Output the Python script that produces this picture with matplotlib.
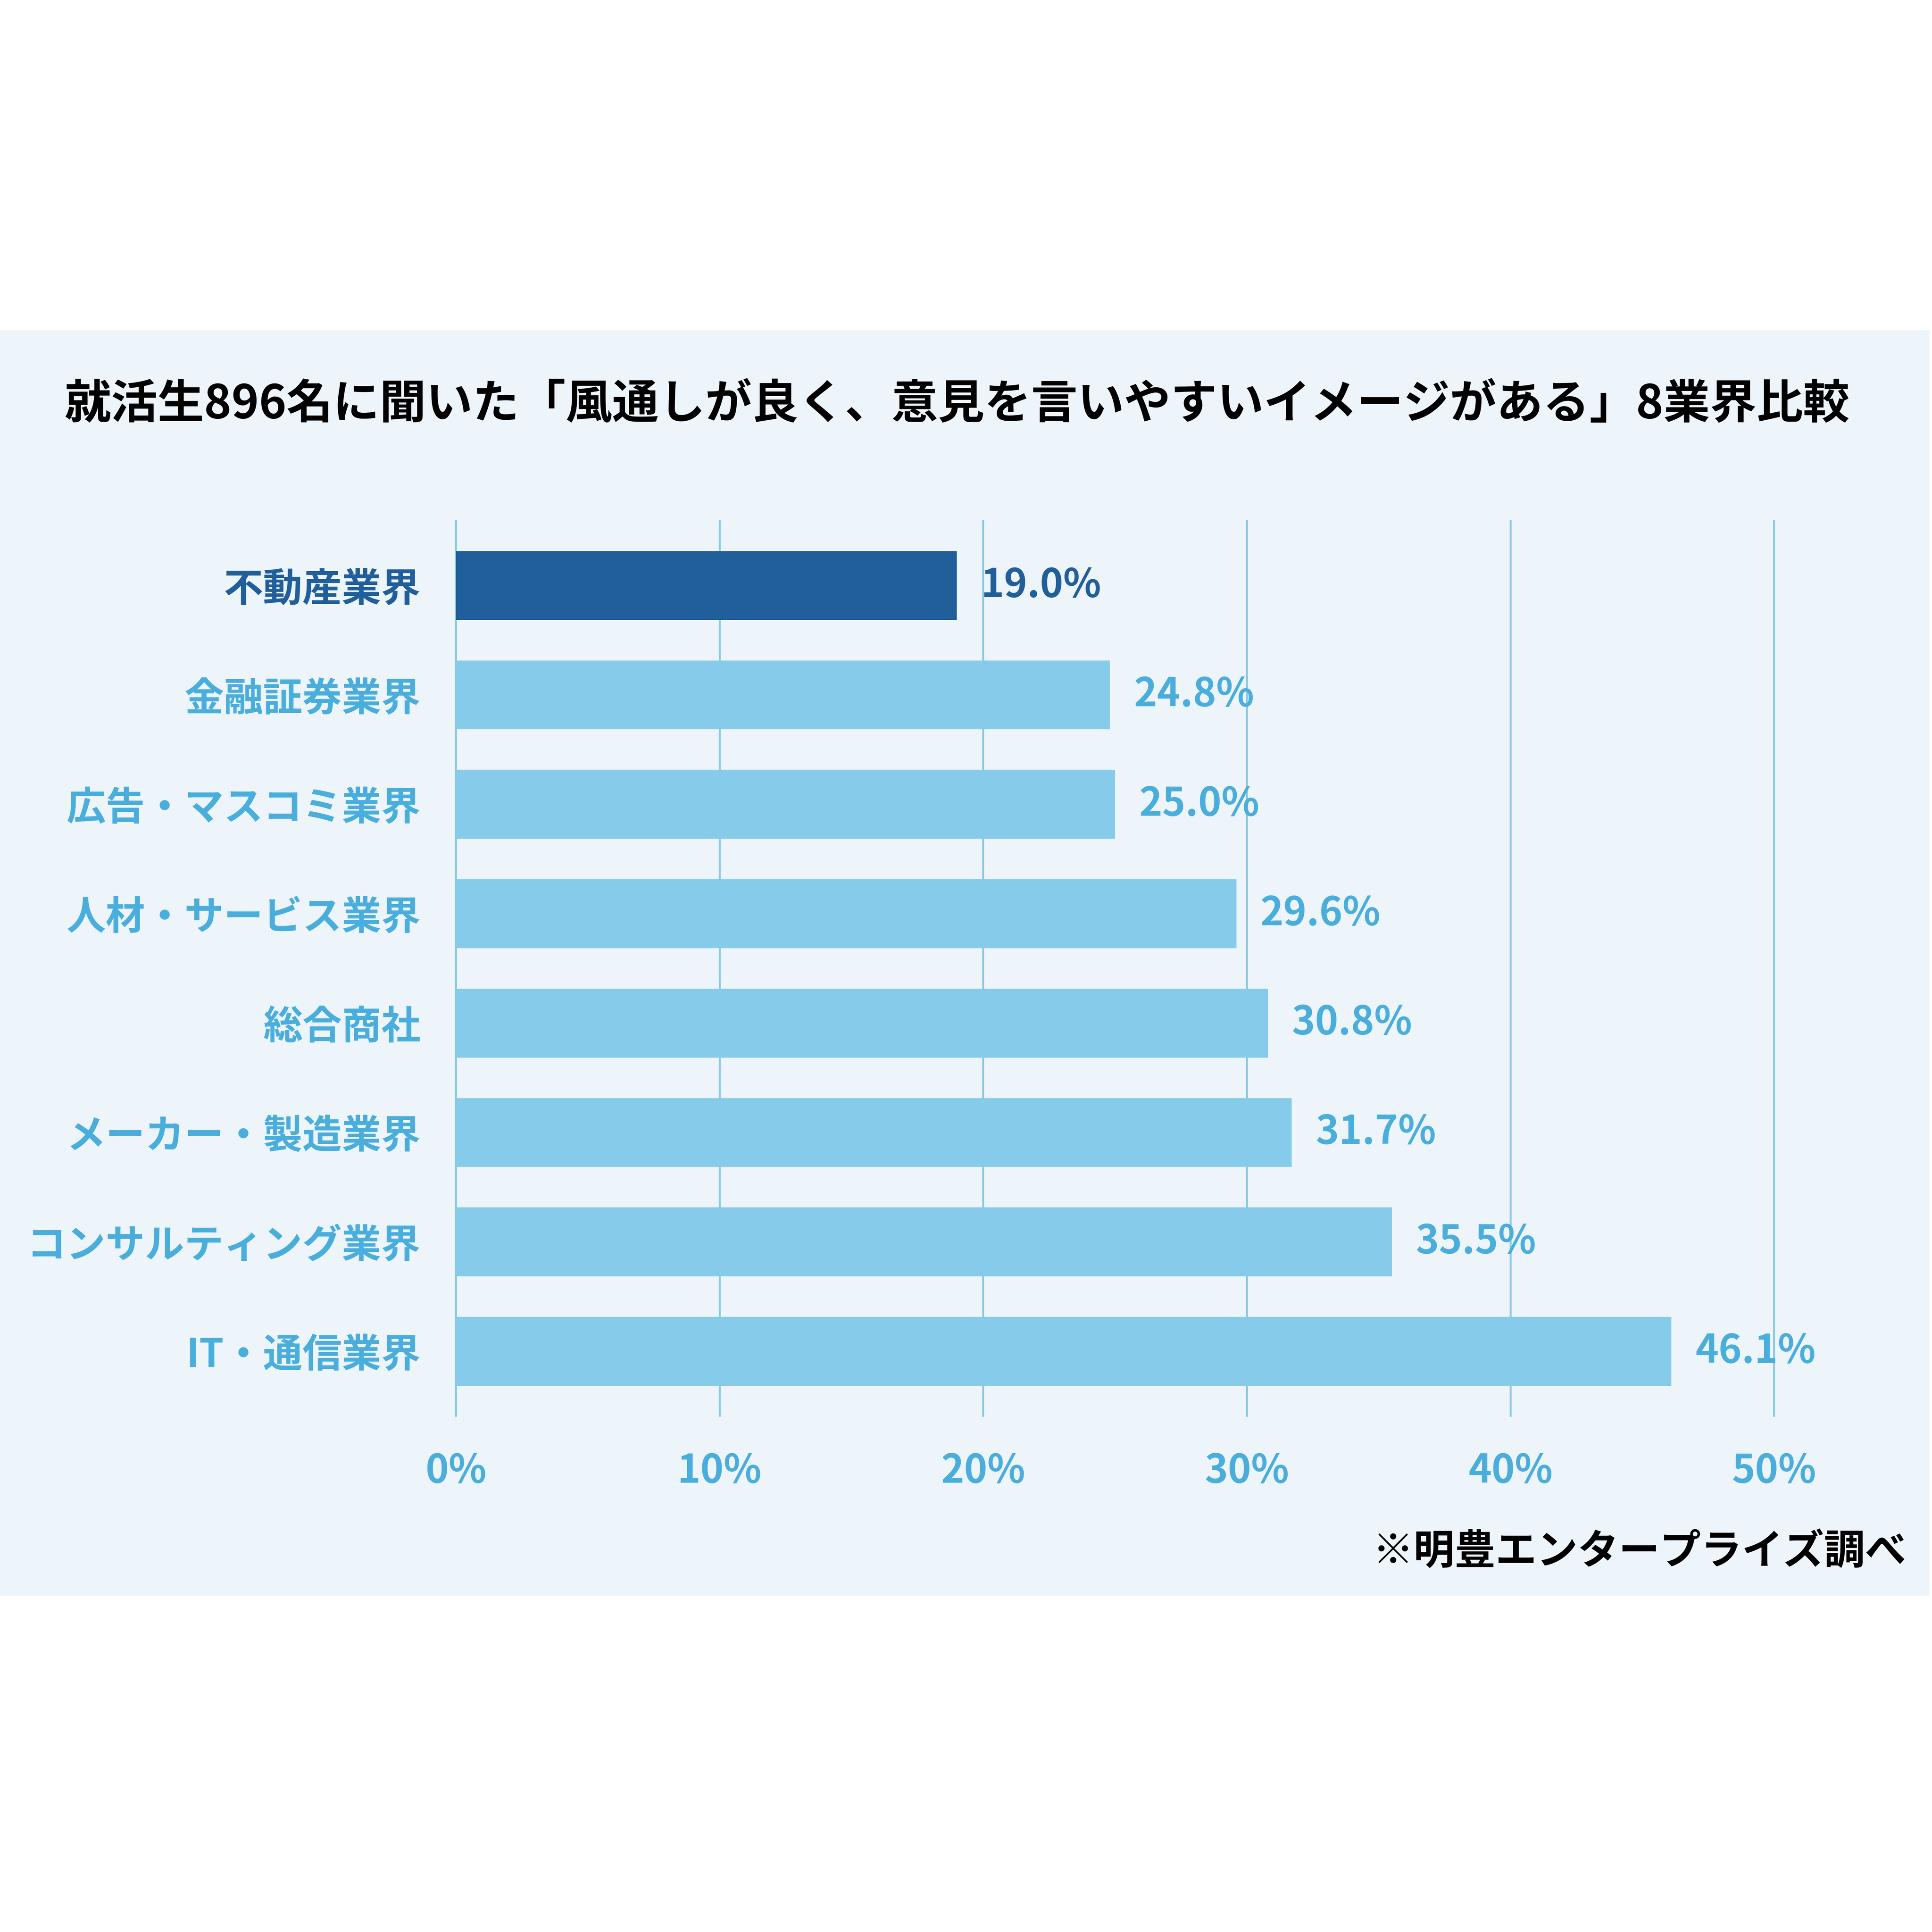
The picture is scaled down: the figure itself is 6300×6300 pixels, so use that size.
# -*- coding:utf-8 -*-
import matplotlib
matplotlib.use('Agg')
import matplotlib.pyplot as plt
import matplotlib.patches as mpatches

categories = ['不動産業界', '金融証券業界', '広告・マスコミ業界', '人材・サービス業界',
              '総合商社', 'メーカー・製造業界', 'コンサルティング業界', 'IT・通信業界']
values = [19.0, 24.8, 25.0, 29.6, 30.8, 31.7, 35.5, 46.1]
xticks = [0, 10, 20, 30, 40, 50]
xtick_labels = ['0%', '10%', '20%', '30%', '40%', '50%']
title = '就活生896名に聞いた「風通しが良く、意見を言いやすいイメージがある」8業界比較'
note = '※明豊エンタープライズ調べ'

plt.rcParams['font.family'] = ['Noto Sans CJK JP', 'DejaVu Sans']

dark = '#215F9A'
light = '#87CBEA'
text_light = '#4AAEDD'
grid_c = '#86CAE6'
panel_c = '#EDF4FA'

W = 15.68
DPI = 6300 / W
fig = plt.figure(figsize=(W, W), dpi=DPI, facecolor='white')
fig.patches.append(mpatches.Rectangle((0, 0.1741), 0.9987, 0.655, transform=fig.transFigure,
                                      facecolor=panel_c, edgecolor='none', zorder=-5))

ax = fig.add_axes([0.2319, 0.2666, 0.9388 - 0.2319, 0.7309 - 0.2666])
ax.set_facecolor('none')
ax.set_zorder(5)

pos = list(range(len(categories)))
colors = [dark] + [light] * (len(categories) - 1)
ax.barh(pos, values, height=0.63, color=colors, zorder=2)

for i, v in enumerate(values):
    c = dark if i == 0 else text_light
    ax.annotate('%.1f%%' % v, (v, i), xytext=(14, 0), textcoords='offset points',
                va='center', ha='left', fontsize=23, fontweight='bold', color=c)

ax.set_xlim(-0.3, 51.5)
ax.set_ylim(7.6, -0.6)
ax.set_yticks(pos)
ax.set_yticklabels(categories, fontsize=23, fontweight='bold')
for i, lab in enumerate(ax.get_yticklabels()):
    lab.set_color(dark if i == 0 else text_light)
ax.set_xticks(xticks)
ax.set_xticklabels(xtick_labels, fontsize=23, fontweight='bold', color=text_light)
ax.tick_params(axis='both', length=0)
ax.tick_params(axis='y', pad=16)
ax.tick_params(axis='x', pad=20)
ax.grid(axis='x', color=grid_c, linewidth=1.1)
ax.set_axisbelow(True)
for s in ax.spines.values():
    s.set_visible(False)

fig.text(0.4955, 0.7905, title, ha='center', va='center', fontsize=27.2, fontweight='bold', color='black')
fig.text(0.9866, 0.1965, note, ha='right', va='center', fontsize=24, fontweight='bold', color='black')

fig.savefig('out.png', dpi=DPI, facecolor='white')
